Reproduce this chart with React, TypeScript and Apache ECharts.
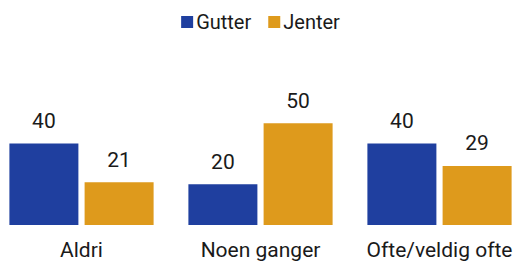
import React, { useEffect, useRef } from "react";
import * as echarts from "echarts";

const categories = ["Aldri", "Noen ganger", "Ofte/veldig ofte"];
const gutter = [40, 20, 40];
const jenter = [21, 50, 29];
const seriesNames = ["Gutter", "Jenter"];

const BLUE = "#1f3f9f";
const ORANGE = "#de9a1c";
const FONT = "Roboto";

export default function App() {
  const ref = useRef<HTMLDivElement>(null);
  useEffect(() => {
    if (!ref.current) return;
    const chart = echarts.init(ref.current, null, { renderer: "svg" });
    const label = {
      show: true,
      position: "top" as const,
      distance: 12,
      color: "#1a1a1a",
      fontSize: 21,
      fontFamily: FONT,
    };
    chart.setOption({
      animation: false,
      backgroundColor: "#ffffff",
      legend: {
        top: 7,
        left: "center",
        itemWidth: 12,
        itemHeight: 12,
        itemGap: 17,
        icon: "rect",
        textStyle: { fontSize: 20, fontFamily: FONT, color: "#1a1a1a", padding: [0, 0, 0, -2] },
        data: seriesNames,
      },
      grid: { left: 0, right: 0, top: 62, bottom: 40, containLabel: false },
      xAxis: {
        type: "category",
        data: categories,
        axisLine: { show: false },
        axisTick: { show: false },
        axisLabel: { interval: 0, hideOverlap: false, fontSize: 21, fontFamily: FONT, color: "#1a1a1a", margin: 14 },
      },
      yAxis: {
        type: "value",
        min: 0,
        max: 80,
        show: false,
        splitLine: { show: false },
      },
      series: [
        {
          name: seriesNames[0],
          type: "bar",
          data: gutter,
          barWidth: 69,
          barGap: "9%",
          itemStyle: { color: BLUE },
          label,
        },
        {
          name: seriesNames[1],
          type: "bar",
          data: jenter,
          barWidth: 69,
          itemStyle: { color: ORANGE },
          label,
        },
      ],
    });
    return () => chart.dispose();
  }, []);
  return (
    <div style={{ position: "fixed", left: 0, top: 0, width: 515, height: 265, overflow: "hidden", background: "#fff" }}>
      <div ref={ref} style={{ position: "absolute", left: -8.5, top: 0, width: 537, height: 265 }} />
    </div>
  );
}
